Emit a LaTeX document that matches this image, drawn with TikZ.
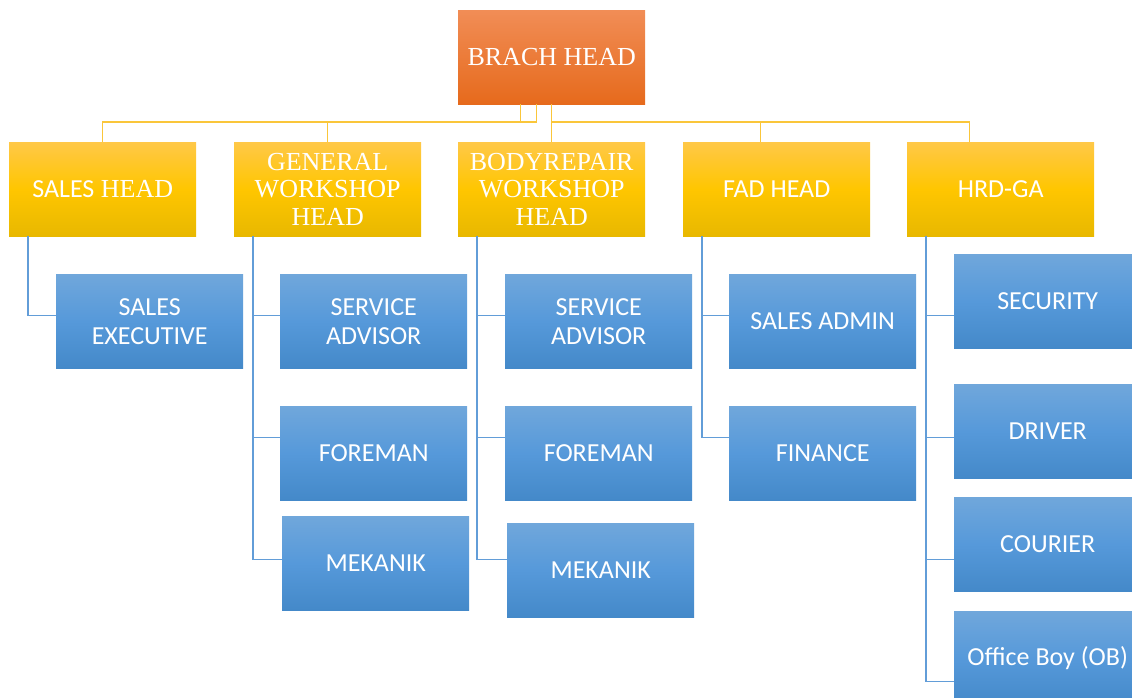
\documentclass[tikz,border=0pt]{standalone}
\usepackage{fontspec}
\setmainfont{Liberation Serif}
\newfontfamily\carl{Carlito}
\definecolor{orTop}{RGB}{241,141,86}
\definecolor{orBot}{RGB}{230,106,28}
\definecolor{gdTop}{RGB}{255,200,72}
\definecolor{gdMid}{RGB}{255,198,0}
\definecolor{gdBot}{RGB}{232,184,0}
\definecolor{blTop}{RGB}{112,167,219}
\definecolor{blMid}{RGB}{86,153,218}
\definecolor{blBot}{RGB}{68,137,201}
\definecolor{gdLine}{RGB}{250,198,58}
\definecolor{blLine}{RGB}{98,157,216}
\begin{document}
\begin{tikzpicture}[x=1pt,y=-1pt,
  box/.style={anchor=north west,inner sep=0pt,minimum width=187pt,minimum height=94pt,
    text=white,align=center,font=\fontsize{26}{27.5}\selectfont},
  headbox/.style={box,top color=orTop,bottom color=orBot},
  unitbox/.style={box,top color=gdTop,bottom color=gdBot,middle color=gdMid},
  staffbox/.style={box,top color=blTop,bottom color=blBot,middle color=blMid,
    font=\carl\fontsize{26}{29}\selectfont},
  gline/.style={draw=gdLine,line width=1.3pt},
  bline/.style={draw=blLine,line width=1.3pt}]
\useasboundingbox (0,0) rectangle (1132,698);
\clip (0,0) rectangle (1132,698);

% top level
\node[headbox] (top) at (458,10) {BRACH HEAD};

% second level
\node[unitbox] (sales) at (9,142) {{\carl SALES} HEAD};
\node[unitbox] (gen) at (234,142) {GENERAL\\WORKSHOP\\HEAD};
\node[unitbox] (body) at (458,142) {BODYREPAIR\\WORKSHOP\\HEAD};
\node[unitbox,font=\carl\fontsize{26}{27.5}\selectfont] (fad) at (683,142) {FAD HEAD};
\node[unitbox,font=\carl\fontsize{26}{27.5}\selectfont] (hrd) at (907,142) {HRD-GA};

% third level
\node[staffbox] (sexec) at (56,274) {SALES\\EXECUTIVE};

\node[staffbox] (gsa) at (280,274) {SERVICE\\ADVISOR};
\node[staffbox] (gfm) at (280,406) {FOREMAN};
\node[staffbox] (gmk) at (282,516) {MEKANIK};

\node[staffbox] (bsa) at (505,274) {SERVICE\\ADVISOR};
\node[staffbox] (bfm) at (505,406) {FOREMAN};
\node[staffbox] (bmk) at (507,523) {MEKANIK};

\node[staffbox] (fsa) at (729,274) {SALES ADMIN};
\node[staffbox] (ffi) at (729,406) {FINANCE};

\node[staffbox] (hsec) at (954,254) {SECURITY};
\node[staffbox] (hdrv) at (954,384) {DRIVER};
\node[staffbox] (hcou) at (954,497) {COURIER};
\node[staffbox] (hob) at (954,611) {Office Boy (OB)};

% bus line under the top box and drop points on the unit boxes
\coordinate (bus) at (0,122);
\coordinate (fadin) at ([xshift=-16pt]fad.north);
\coordinate (hrdin) at ([xshift=-31.5pt]hrd.north);

% top level connectors
\draw[gline] ([xshift=-31.5pt]top.south) |- (bus -| sales.north) -- (sales.north);
\draw[gline] ([xshift=-15.5pt]top.south) |- (bus -| gen.north) -- (gen.north);
\draw[gline] (top.south) -- (body.north);
\draw[gline] (top.south) |- (bus -| fadin) -- (fadin);
\draw[gline] (top.south) |- (bus -| hrdin) -- (hrdin);

% sales column
\draw[bline] ([xshift=19pt]sales.south west) |- ([yshift=6pt]sexec.west);

% general workshop column
\draw[bline] ([xshift=19pt]gen.south west) |- ([yshift=6pt]gsa.west);
\draw[bline] ([xshift=19pt]gen.south west) |- ([yshift=16pt]gfm.west);
\draw[bline] ([xshift=19pt]gen.south west) |- ([yshift=4pt]gmk.west);

% body repair column
\draw[bline] ([xshift=19pt]body.south west) |- ([yshift=6pt]bsa.west);
\draw[bline] ([xshift=19pt]body.south west) |- ([yshift=16pt]bfm.west);
\draw[bline] ([xshift=19pt]body.south west) |- ([yshift=11pt]bmk.west);

% finance column
\draw[bline] ([xshift=19pt]fad.south west) |- ([yshift=6pt]fsa.west);
\draw[bline] ([xshift=19pt]fad.south west) |- ([yshift=16pt]ffi.west);

% hrd column
\draw[bline] ([xshift=19pt]hrd.south west) |- ([yshift=-14pt]hsec.west);
\draw[bline] ([xshift=19pt]hrd.south west) |- ([yshift=-6pt]hdrv.west);
\draw[bline] ([xshift=19pt]hrd.south west) |- ([yshift=-15pt]hcou.west);
\draw[bline] ([xshift=19pt]hrd.south west) |- ([yshift=-23pt]hob.west);
\end{tikzpicture}
\end{document}
